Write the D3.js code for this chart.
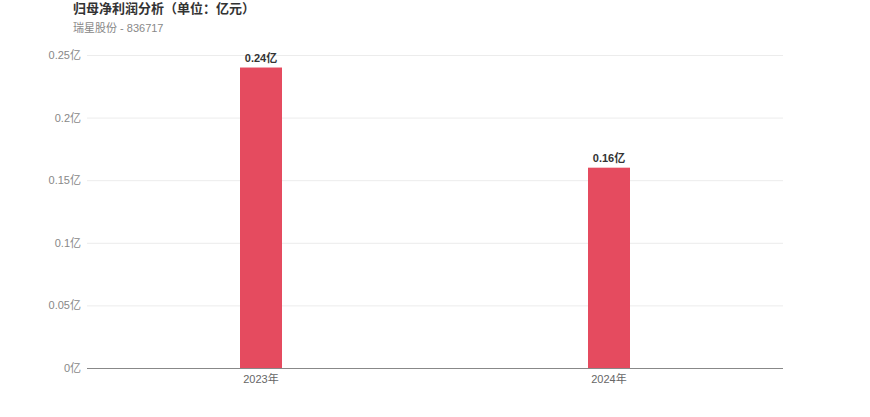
<!DOCTYPE html>
<html>
<head>
<meta charset="utf-8">
<script src="https://cdn.jsdelivr.net/npm/d3@7"></script>
<style>
  body { margin: 0; background: #fff; font-family: "Noto Sans CJK SC", "Liberation Sans", sans-serif; }
  svg text { font-family: "Liberation Sans", "Noto Sans CJK SC", sans-serif; }
</style>
</head>
<body>
<svg id="chart"></svg>
<script>
var years = ["2023年", "2024年"];
var profits = [0.24, 0.16];
var yTicks = [0, 0.05, 0.1, 0.15, 0.2, 0.25];

var screen = { width: 870, height: 417 };
var margins = { top: 55, bottom: 49, left: 87, right: 87 };
var graph = {
  width: screen.width - margins.left - margins.right,
  height: screen.height - margins.top - margins.bottom
};

var svg = d3.select("#chart").attr("width", screen.width).attr("height", screen.height);

//titles
svg.append("text")
  .text("归母净利润分析（单位：亿元）")
  .attr("x", 73).attr("y", 13)
  .attr("font-size", 13).attr("font-weight", "bold")
  .attr("fill", "#333");
svg.append("text")
  .text("瑞星股份 - 836717")
  .attr("x", 73).attr("y", 32)
  .attr("font-size", 11)
  .attr("fill", "#888");

var xScale = d3.scaleBand().domain(years).range([0, graph.width]);
var yScale = d3.scaleLinear().domain([0, 0.25]).range([graph.height, 0]);

var g = svg.append("g")
  .attr("transform", "translate(" + margins.left + "," + margins.top + ")");

//grid
g.selectAll(".grid")
  .data(yTicks.slice(1))
  .enter()
  .append("line")
  .attr("x1", 0).attr("x2", graph.width)
  .attr("y1", function (d) { return yScale(d) + 0.5; })
  .attr("y2", function (d) { return yScale(d) + 0.5; })
  .attr("stroke", "#ececec");

//y axis labels
g.selectAll(".ylab")
  .data(yTicks)
  .enter()
  .append("text")
  .text(function (d) { return d + "亿"; })
  .attr("x", -6)
  .attr("y", function (d) { return yScale(d) + 4; })
  .attr("text-anchor", "end")
  .attr("font-size", 11)
  .attr("fill", "#888");

//bars
var barWidth = 42;
g.selectAll("rect")
  .data(profits)
  .enter()
  .append("rect")
  .attr("x", function (d, i) { return xScale(years[i]) + xScale.bandwidth() / 2 - barWidth / 2; })
  .attr("y", function (d) { return yScale(d); })
  .attr("width", barWidth)
  .attr("height", function (d) { return graph.height - yScale(d); })
  .attr("fill", "#e54b5f");

//bar labels
g.selectAll(".blab")
  .data(profits)
  .enter()
  .append("text")
  .text(function (d) { return d + "亿"; })
  .attr("x", function (d, i) { return xScale(years[i]) + xScale.bandwidth() / 2; })
  .attr("y", function (d) { return yScale(d) - 6; })
  .attr("text-anchor", "middle")
  .attr("font-size", 11).attr("font-weight", "bold")
  .attr("fill", "#333");

//x axis
g.append("line")
  .attr("x1", 0).attr("x2", graph.width)
  .attr("y1", graph.height + 0.5).attr("y2", graph.height + 0.5)
  .attr("stroke", "#888");

g.selectAll(".xlab")
  .data(years)
  .enter()
  .append("text")
  .text(function (d) { return d; })
  .attr("x", function (d) { return xScale(d) + xScale.bandwidth() / 2; })
  .attr("y", graph.height + 15)
  .attr("text-anchor", "middle")
  .attr("font-size", 11)
  .attr("fill", "#666");
</script>
</body>
</html>
